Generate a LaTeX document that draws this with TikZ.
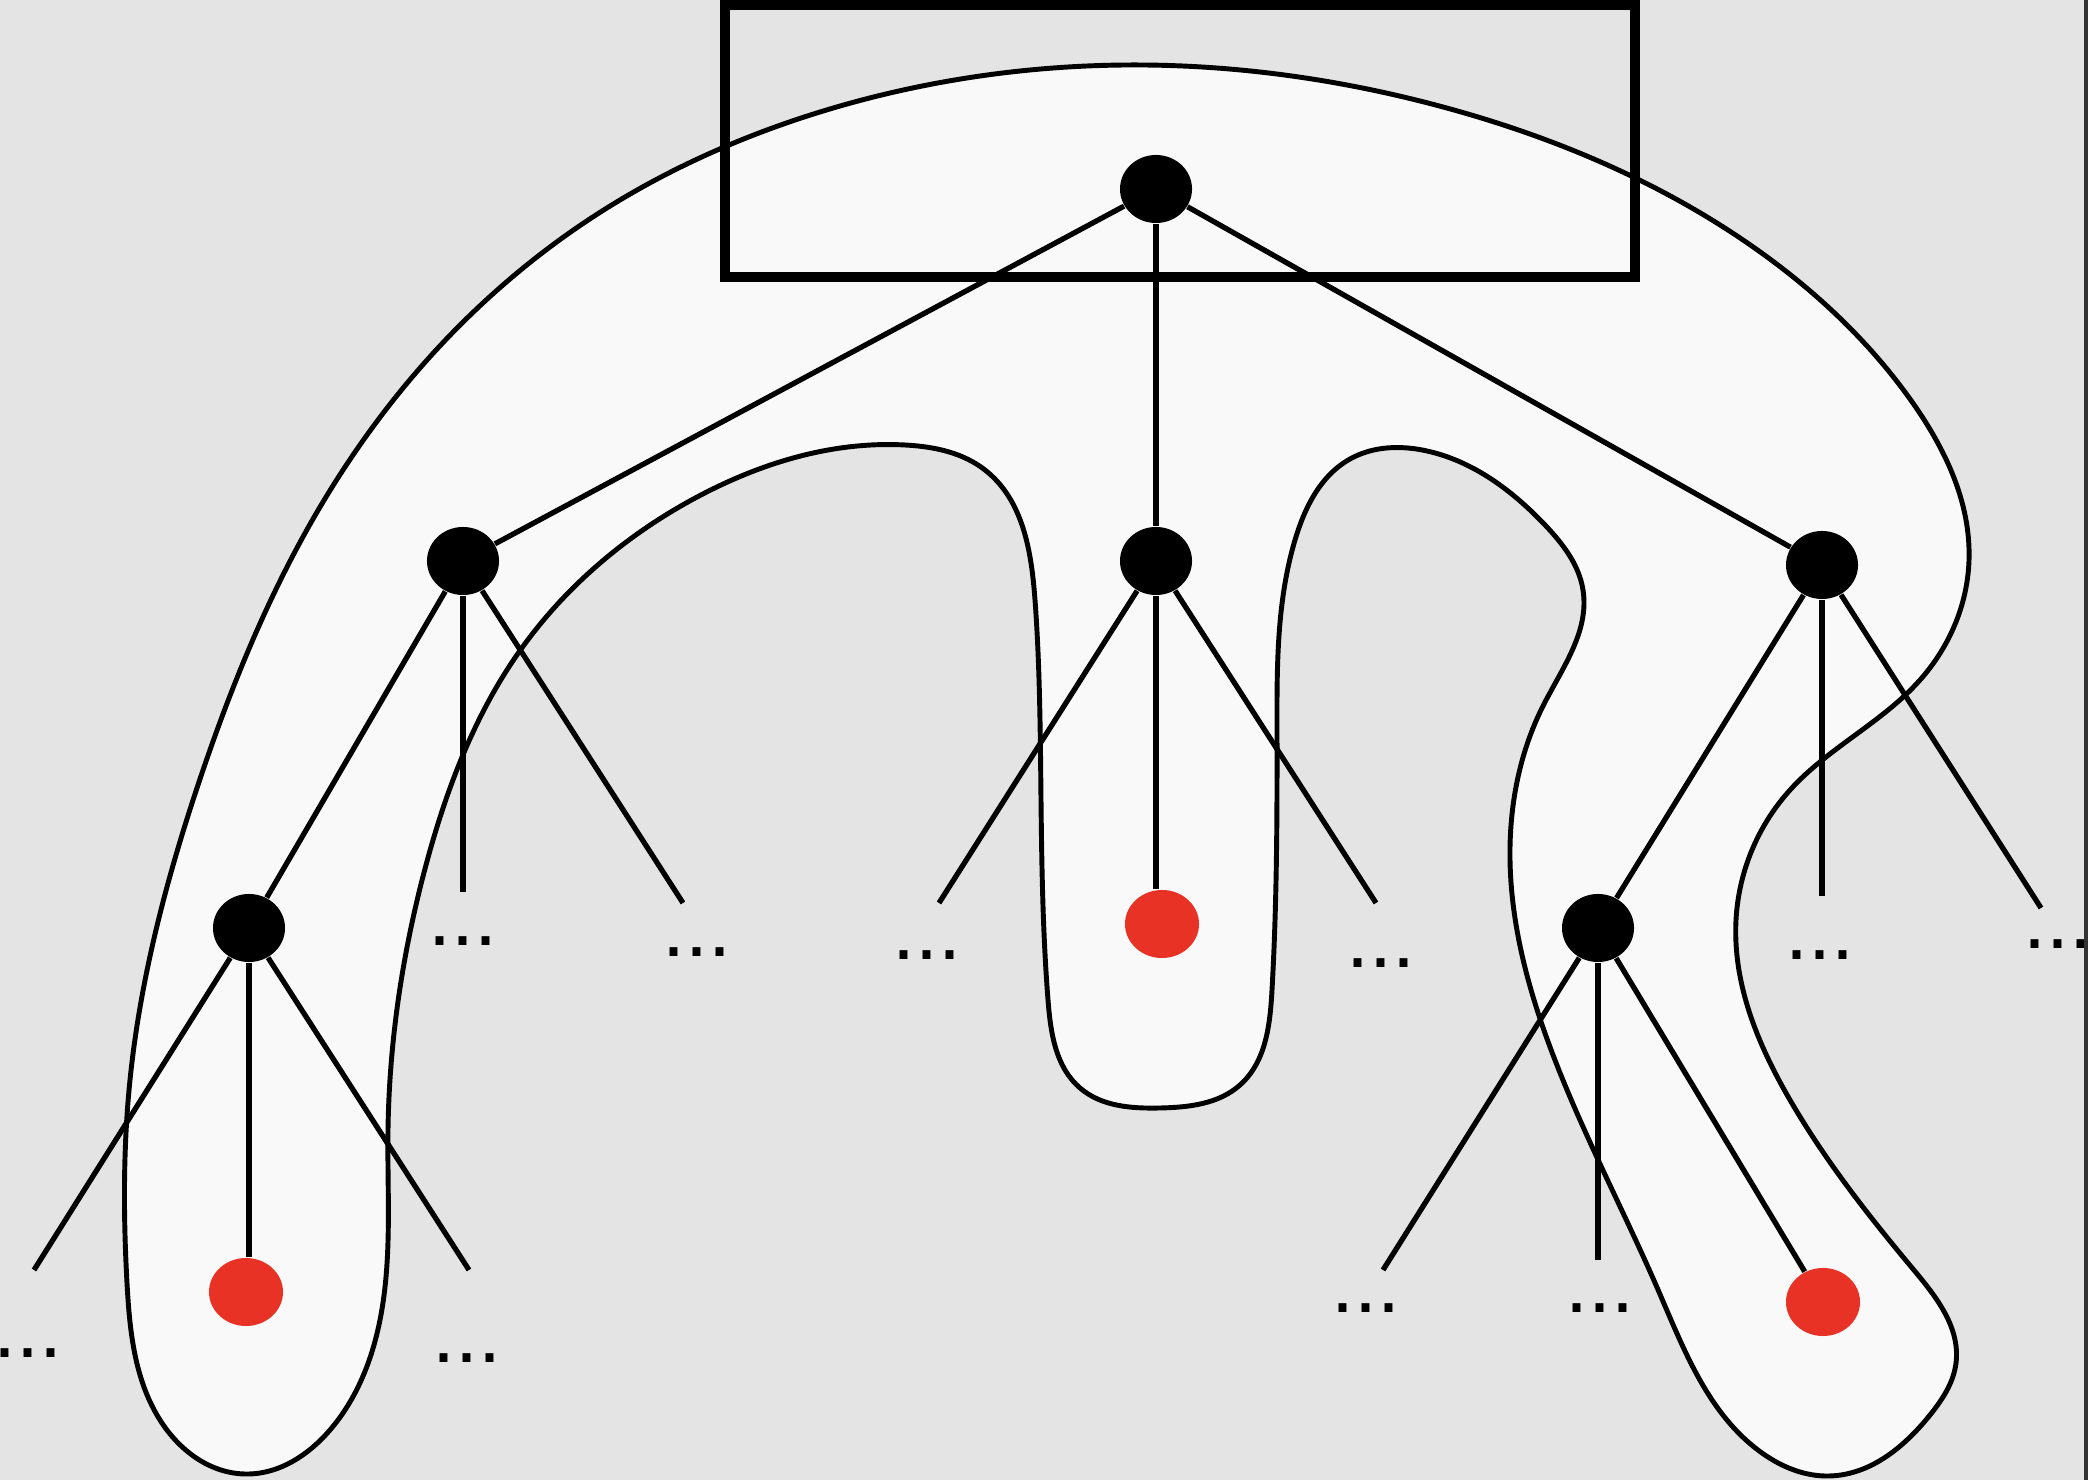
\documentclass[tikz,border=0pt]{standalone}
\usepackage{fontspec}
\setmainfont{Liberation Sans}
\usepackage{xcolor}
\usetikzlibrary{shapes.geometric,hobby}
\definecolor{bggray}{RGB}{228,228,228}
\definecolor{blobfill}{RGB}{249,249,249}
\definecolor{leafred}{RGB}{232,50,38}

\begin{document}
\begin{tikzpicture}[x=0.01cm, y=-0.01cm,
  vert/.style={ellipse, fill=black, inner sep=0pt, minimum width=0.72cm, minimum height=0.68cm},
  hit/.style={vert, fill=leafred, minimum width=0.74cm},
  more/.style={inner sep=0pt, font=\fontsize{23.5}{24}\selectfont},
  edge/.style={line width=1.5pt}]
  % canvas
  \fill[bggray] (0,0) rectangle (2088,1480);
  \useasboundingbox (0,0) rectangle (2088,1480);
  % the region round the chosen vertices
  \draw[line width=1.4pt, fill=blobfill] plot[closed hobby] coordinates {
    (1127,65) (1443,107) (1743,240) (1910,399) (1969,560) (1920,680)
    (1790,790) (1736,920) (1790,1100) (1913,1269) (1956,1363) (1930,1415)
    (1829,1476) (1762,1453) (1659,1292) (1550,1047) (1510,860) (1543,706)
    (1583,590) (1545,525) (1427,451) (1350,459) (1295,540) (1277,732)
    (1272,990) (1240,1085) (1160,1108) (1080,1088) (1048,1000) (1041,800)
    (1035,600) (985,470) (905,445) (699,496) (519,652) (426,865)
    (388,1130) (380,1320) (330,1430) (245,1474) (160,1420) (127,1283)
    (130,1080) (200,779) (313,519) (420,368) (599,213) (820,112)};
  % box round the root
  \draw[line width=2.6pt] (725,5) rectangle (1635,277);
  % vertices
  \node[vert] (root) at (1156,189) {};
  \node[vert] (left) at (463,561) {};
  \node[vert] (mid) at (1156,561) {};
  \node[vert] (right) at (1822,565) {};
  \node[vert] (leftleft) at (249,928) {};
  \node[vert] (rightleft) at (1598,928) {};
  \node[hit] (hitA) at (246,1292) {};
  \node[hit] (hitB) at (1162,924) {};
  \node[hit] (hitC) at (1823,1302) {};
  % loose ends of the cut branches
  \coordinate (leftB) at (463,892);
  \coordinate (leftC) at (683,903);
  \coordinate (midA) at (939,903);
  \coordinate (midC) at (1376,903);
  \coordinate (rightB) at (1822,896);
  \coordinate (rightC) at (2041,908);
  \coordinate (llA) at (34,1270);
  \coordinate (llC) at (469,1270);
  \coordinate (rlA) at (1383,1270);
  \coordinate (rlB) at (1598,1260);
  % edges
  \foreach \a/\b in {root/left, root/mid, root/right,
      left/leftleft, left/leftB, left/leftC,
      mid/midA, mid/midC,
      right/rightleft, right/rightB, right/rightC,
      leftleft/llA, leftleft/llC,
      rightleft/rlA, rightleft/rlB, rightleft/hitC}
    \draw[edge] (\a) -- (\b);
  \draw[edge] (mid) -- (mid |- hitB.north);
  \draw[edge] (leftleft) -- (leftleft |- hitA.north);
  % dots under the cut branches
  \foreach \n/\x/\y in {d1/463/941, d2/697/952, d3/927/955, d4/1381/963,
      d5/1820/955, d6/2058/944, d7/28/1353, d8/467/1358, d9/1366/1308, d10/1600/1308}
    \node[more] (\n) at (\x,\y) {...};
  % dark strip on the right edge
  \fill[black!80] (2084,0) rectangle (2088,1480);
\end{tikzpicture}
\end{document}
